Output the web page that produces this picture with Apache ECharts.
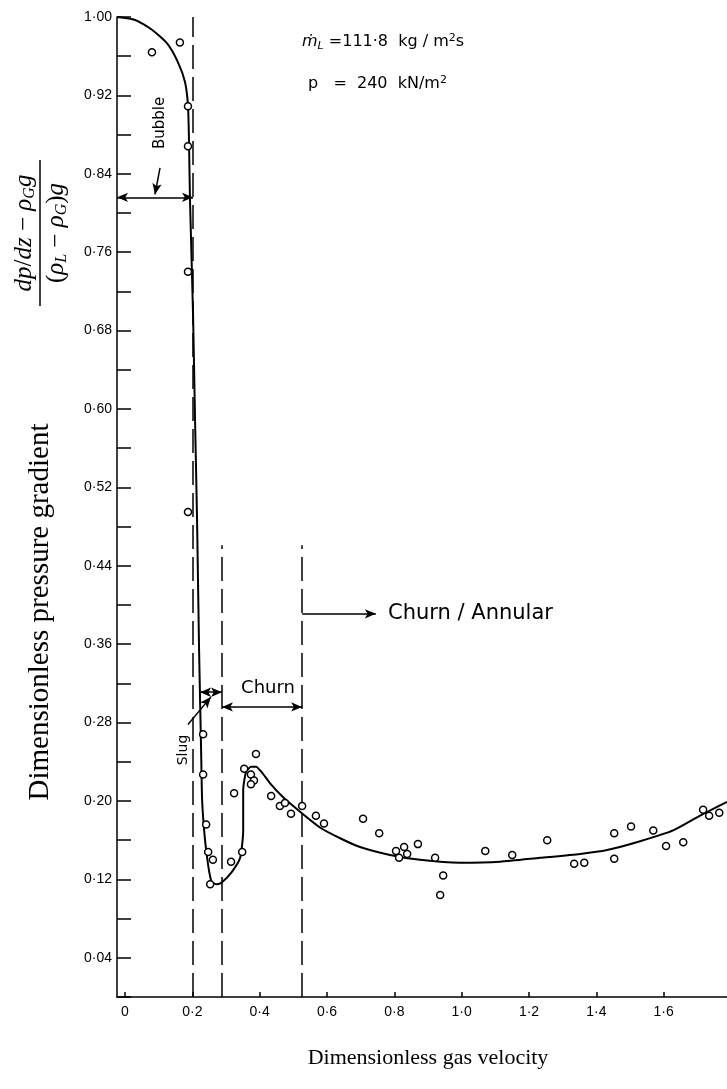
<!DOCTYPE html>
<html>
<head>
<meta charset="utf-8">
<script src="https://cdn.jsdelivr.net/npm/echarts@6/dist/echarts.min.js"></script>
<style>
html, body { margin: 0; padding: 0; background: #fff; }
#chart { width: 727px; height: 1089px; }
</style>
</head>
<body>
<div id="chart"></div>
<script>
// fitted curve
const curveX = [-0.024, 0.030, 0.080, 0.125, 0.157, 0.178, 0.187, 0.190, 0.193, 0.202, 0.208, 0.214, 0.220, 0.226, 0.229, 0.235, 0.241, 0.250, 0.258, 0.273, 0.288, 0.318, 0.342, 0.351, 0.351, 0.359, 0.374, 0.389, 0.407, 0.431, 0.469, 0.520, 0.579, 0.639, 0.698, 0.787, 0.876, 0.995, 1.114, 1.233, 1.352, 1.432, 1.530, 1.628, 1.708, 1.788];
const curveY = [1.000, 0.997, 0.987, 0.973, 0.954, 0.934, 0.910, 0.874, 0.813, 0.698, 0.589, 0.487, 0.354, 0.252, 0.201, 0.170, 0.150, 0.128, 0.117, 0.115, 0.117, 0.128, 0.142, 0.170, 0.211, 0.229, 0.235, 0.235, 0.229, 0.218, 0.204, 0.189, 0.173, 0.162, 0.153, 0.145, 0.140, 0.137, 0.138, 0.142, 0.146, 0.150, 0.159, 0.170, 0.185, 0.199];

// measured points
const pointX = [0.080, 0.163, 0.187, 0.187, 0.187, 0.187,
  0.232, 0.232, 0.241, 0.247, 0.261, 0.253,
  0.315, 0.348, 0.324, 0.354, 0.389, 0.374, 0.383, 0.374, 0.434, 0.460, 0.475, 0.493, 0.526,
  0.567, 0.591, 0.707, 0.755, 0.805, 0.814, 0.829, 0.838, 0.870, 0.921, 0.945, 0.936,
  1.070, 1.150, 1.254, 1.334, 1.364, 1.453, 1.453, 1.503, 1.569, 1.607, 1.658, 1.717, 1.735, 1.765];
const pointY = [0.964, 0.974, 0.909, 0.868, 0.740, 0.495,
  0.268, 0.227, 0.176, 0.148, 0.140, 0.115,
  0.138, 0.148, 0.208, 0.233, 0.248, 0.227, 0.221, 0.217, 0.205, 0.195, 0.198, 0.187, 0.195,
  0.185, 0.177, 0.182, 0.167, 0.149, 0.142, 0.153, 0.146, 0.156, 0.142, 0.124, 0.104,
  0.149, 0.145, 0.160, 0.136, 0.137, 0.167, 0.141, 0.174, 0.170, 0.154, 0.158, 0.191, 0.185, 0.188];

const xTickValues = [0, 0.2, 0.4, 0.6, 0.8, 1.0, 1.2, 1.4, 1.6];

// regime boundaries (dashed lines)
const boundaryX = [0.202, 0.288, 0.526];
const boundaryTop = [1.0, 0.461, 0.461];

const curve = curveX.map((x, i) => [x, curveY[i]]);
const points = pointX.map((x, i) => [x, pointY[i]]);

const dot = v => v.replace('.', '·');

const dashed = boundaryX.map((x, i) => [{ coord: [x, 0] }, { coord: [x, boundaryTop[i]] }]);

// regime arrows
const arrows = [
  [{ coord: [-0.0238, 0.816], symbol: 'arrow' }, { coord: [0.202, 0.816], symbol: 'arrow' }],
  [{ coord: [0.104, 0.846], symbol: 'none' }, { coord: [0.089, 0.819], symbol: 'arrow' }],
  [{ coord: [0.223, 0.311], symbol: 'arrow' }, { coord: [0.288, 0.311], symbol: 'arrow' }],
  [{ coord: [0.187, 0.278], symbol: 'none' }, { coord: [0.255, 0.306], symbol: 'arrow' }],
  [{ coord: [0.288, 0.296], symbol: 'arrow' }, { coord: [0.526, 0.296], symbol: 'arrow' }],
  [{ coord: [0.526, 0.391], symbol: 'none' }, { coord: [0.745, 0.391], symbol: 'arrow' }]
];

const chart = echarts.init(document.getElementById('chart'));
chart.setOption({
  animation: false,
  backgroundColor: '#fff',
  grid: { left: 117, right: 0, top: 17, bottom: 92 },
  xAxis: {
    type: 'value',
    min: -0.0238,
    max: 1.788,
    axisLine: { onZero: false, lineStyle: { color: '#000', width: 1.5 } },
    axisTick: { show: true, inside: true, length: 5, customValues: xTickValues, lineStyle: { color: '#000', width: 1.5 } },
    axisLabel: {
      customValues: xTickValues,
      color: '#000',
      fontFamily: 'Liberation Sans',
      fontSize: 14,
      margin: 8,
      formatter: v => (v === 0 ? '0' : dot(v.toFixed(1)))
    },
    splitLine: { show: false }
  },
  yAxis: {
    type: 'value',
    min: 0,
    max: 1,
    interval: 0.04,
    axisLine: { onZero: false, lineStyle: { color: '#000', width: 1.5 } },
    axisTick: { inside: true, length: 14, lineStyle: { color: '#000', width: 1.5 } },
    axisLabel: {
      color: '#000',
      fontFamily: 'Liberation Sans',
      fontSize: 14,
      margin: 5,
      formatter: v => (Math.round(v / 0.04) % 2 === 1 ? dot(v.toFixed(2)) : '')
    },
    splitLine: { show: false }
  },
  series: [
    {
      type: 'line',
      data: curve,
      showSymbol: false,
      smooth: 0.2,
      silent: true,
      lineStyle: { color: '#000', width: 2 },
      markLine: {
        silent: true,
        symbol: ['none', 'none'],
        label: { show: false },
        lineStyle: { color: '#000', width: 1.5, type: [24, 8] },
        data: dashed
      }
    },
    {
      type: 'scatter',
      data: points,
      symbol: 'circle',
      symbolSize: 7,
      silent: true,
      z: 5,
      itemStyle: { color: '#fff', borderColor: '#000', borderWidth: 1.5, opacity: 1 },
      markLine: {
        silent: true,
        symbolSize: [7, 11],
        label: { show: false },
        lineStyle: { color: '#000', width: 1.5, type: 'solid' },
        data: arrows
      }
    }
  ]
});

const sans = 'DejaVu Sans';
const serif = 'Liberation Serif';

chart.setOption({
  graphic: [
    { type: 'text', x: 160, y: 123, rotation: Math.PI / 2,
      style: { text: 'Bubble', fontFamily: sans, fontSize: 15, fill: '#000', align: 'center', verticalAlign: 'middle' } },
    { type: 'text', x: 183, y: 750, rotation: Math.PI / 2,
      style: { text: 'Slug', fontFamily: sans, fontSize: 14, fill: '#000', align: 'center', verticalAlign: 'middle' } },
    { type: 'text', x: 268, y: 688,
      style: { text: 'Churn', fontFamily: sans, fontSize: 18, fill: '#000', align: 'center', verticalAlign: 'middle' } },
    { type: 'text', x: 388, y: 614,
      style: { text: 'Churn / Annular', fontFamily: sans, fontSize: 21, fill: '#000', align: 'left', verticalAlign: 'middle' } },
    { type: 'text', x: 302, y: 42,
      style: {
        text: '{i|ṁ}{s|L} =111·8  kg / m{p|2}s',
        fontFamily: sans, fontSize: 16, fill: '#000', align: 'left', verticalAlign: 'middle',
        rich: {
          i: { fontFamily: sans, fontSize: 16, fontStyle: 'italic' },
          s: { fontFamily: sans, fontSize: 11, fontStyle: 'italic', verticalAlign: 'bottom', padding: [8, 0, 0, 0] },
          p: { fontFamily: sans, fontSize: 11, verticalAlign: 'top', padding: [0, 0, 8, 0] }
        }
      } },
    { type: 'text', x: 308, y: 84,
      style: {
        text: 'p   =  240  kN/m{p|2}',
        fontFamily: sans, fontSize: 16, fill: '#000', align: 'left', verticalAlign: 'middle',
        rich: {
          p: { fontFamily: sans, fontSize: 11, verticalAlign: 'top', padding: [0, 0, 8, 0] }
        }
      } },
    // axis titles
    { type: 'text', x: 428, y: 1058,
      style: { text: 'Dimensionless gas velocity', fontFamily: serif, fontSize: 22, fill: '#000', align: 'center', verticalAlign: 'middle' } },
    { type: 'text', x: 40, y: 612, rotation: Math.PI / 2,
      style: { text: 'Dimensionless pressure gradient', fontFamily: serif, fontSize: 29, fill: '#000', align: 'center', verticalAlign: 'middle' } },
    {
      type: 'group', x: 40, y: 233, rotation: Math.PI / 2,
      children: [
        { type: 'text', x: 0, y: -16,
          style: {
            text: '{i|dp}/{i|dz} − {i|ρ}{s|G}{i|g}',
            fontFamily: serif, fontSize: 25, fill: '#000', align: 'center', verticalAlign: 'middle',
            rich: {
              i: { fontFamily: serif, fontSize: 25, fontStyle: 'italic' },
              s: { fontFamily: serif, fontSize: 16, fontStyle: 'italic', verticalAlign: 'bottom', padding: [11, 0, 0, 0] }
            }
          } },
        { type: 'line', shape: { x1: -73, y1: 0, x2: 73, y2: 0 }, style: { stroke: '#000', lineWidth: 1.5 } },
        { type: 'text', x: 0, y: 16,
          style: {
            text: '({i|ρ}{s|L} − {i|ρ}{s|G}){i|g}',
            fontFamily: serif, fontSize: 25, fill: '#000', align: 'center', verticalAlign: 'middle',
            rich: {
              i: { fontFamily: serif, fontSize: 25, fontStyle: 'italic' },
              s: { fontFamily: serif, fontSize: 16, fontStyle: 'italic', verticalAlign: 'bottom', padding: [11, 0, 0, 0] }
            }
          } }
      ]
    }
  ]
});
</script>
</body>
</html>
